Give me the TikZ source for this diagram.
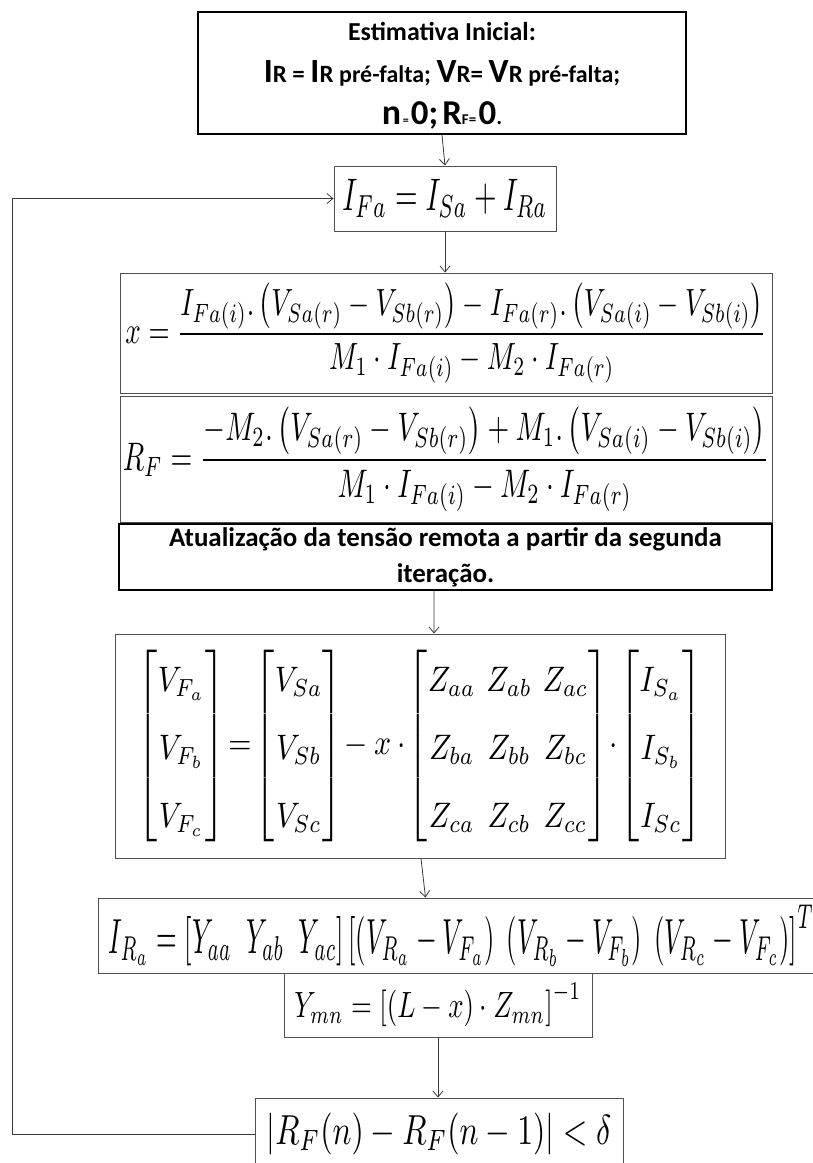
\documentclass[tikz,border=0pt]{standalone}
\usepackage{amsmath}
\usepackage{graphicx}
\usepackage{fontspec}
\usetikzlibrary{arrows.meta}
\newfontfamily\calibri{Carlito}
\definecolor{FCLine}{HTML}{505050}
\definecolor{FCArrow}{HTML}{3A3A3A}
\newcommand{\fsz}[1]{\fontsize{#1}{#1}\selectfont}

\begin{document}
\begin{tikzpicture}[x=1bp,y=-1bp,
  eqbox/.style={draw=FCLine,line width=0.9bp,inner sep=0pt},
  textbox/.style={draw=black,line width=1.8bp,inner sep=0pt,align=center},
  conn/.style={draw=FCArrow,line width=0.8bp,-{Straight Barb[length=6bp,width=10bp]}}]
\path[use as bounding box] (0,0) rectangle (813,1163);
% initial estimate
\node[textbox,minimum width=488bp,minimum height=122bp] (init) at (442,73) {};
\node[align=center,inner sep=0pt,font=\calibri\bfseries\fontsize{26}{42}\selectfont]
  (initTxt) at (442,76)
  {Estimativa Inicial:\\
   {\fsz{34}I}{\fsz{25}R = }{\fsz{34}I}{\fsz{25}R }{\fsz{24}pré-falta}{\fsz{25}; }{\fsz{34}V}{\fsz{25}R= }{\fsz{34}V}{\fsz{25}R }{\fsz{24}pré-falta}{\fsz{25};}\\
   {\fsz{36}n}{\fsz{12}\,=\,}{\fsz{35}0;}{\fsz{18} }{\fsz{35}R}{\fsz{15}F=\,}{\fsz{35}0}{\fsz{22}.}};
\node[eqbox,minimum width=222bp,minimum height=65bp] (ifa) at (445,198.5)
  {\resizebox*{205bp}{38bp}{$I_{Fa}=I_{Sa}+I_{Ra}$}};
\node[eqbox,minimum width=652bp,minimum height=120bp] (xeq) at (446,333)
  {\resizebox*{641bp}{100bp}{$\displaystyle x=\frac{I_{Fa(i)}{.}\left(V_{Sa(r)}-V_{Sb(r)}\right)-I_{Fa(r)}{.}\left(V_{Sa(i)}-V_{Sb(i)}\right)}{M_1\cdot I_{Fa(i)}-M_2\cdot I_{Fa(r)}}$}};
\node[eqbox,minimum width=652bp,minimum height=126bp] (rfeq) at (446,459)
  {\resizebox*{646bp}{105bp}{$\displaystyle R_F=\frac{-M_2{.}\left(V_{Sa(r)}-V_{Sb(r)}\right)+M_1{.}\left(V_{Sa(i)}-V_{Sb(i)}\right)}{M_1\cdot I_{Fa(i)}-M_2\cdot I_{Fa(r)}}$}};
\node[textbox,minimum width=653bp,minimum height=66bp,
  font=\calibri\bfseries\fontsize{27}{36}\selectfont] (atual) at (445.5,557)
  {Atualização da tensão remota a partir da segunda\\iteração.};
% matrix step
\node[eqbox,minimum width=610bp,minimum height=224bp] (mat) at (420,746)
  {\renewcommand{\arraystretch}{1.6}\setlength{\arraycolsep}{1.8pt}%
   \resizebox*{564bp}{204bp}{$\begin{bmatrix}V_{F_a}\\V_{F_b}\\V_{F_c}\end{bmatrix}\!=\!\begin{bmatrix}V_{Sa}\\V_{Sb}\\V_{Sc}\end{bmatrix}\!-x\cdot\!\begin{bmatrix}Z_{aa}&Z_{ab}&Z_{ac}\\Z_{ba}&Z_{bb}&Z_{bc}\\Z_{ca}&Z_{cb}&Z_{cc}\end{bmatrix}\!\cdot\!\begin{bmatrix}I_{S_a}\\I_{S_b}\\I_{Sc}\end{bmatrix}$}};
\node[eqbox,minimum width=727bp,minimum height=75bp] (ira) at (461.5,935.5)
  {\resizebox*{705bp}{61bp}{$I_{R_a}=\left[Y_{aa}\;\;Y_{ab}\;\;Y_{ac}\right]\left[\left(V_{R_a}-V_{F_a}\right)\;\left(V_{R_b}-V_{F_b}\right)\;\left(V_{R_c}-V_{F_c}\right)\right]^T$}};
\node[eqbox,minimum width=308bp,minimum height=64bp] (ymn) at (438,1005)
  {\resizebox*{287bp}{44bp}{$Y_{mn}=\left[\left(L-x\right)\cdot Z_{mn}\right]^{-1}$}};
\node[eqbox,minimum width=368bp,minimum height=72bp] (crit) at (439,1134)
  {\resizebox*{345bp}{42bp}{$\left|R_F(n)-R_F(n-1)\right|<\delta$}};
\coordinate (loopx) at (12,0);
% connectors
\draw[conn] (init.south) -- (ifa.north);
\draw[conn] (ifa.south) -- (ifa.south |- xeq.north);
\draw[conn] ([xshift=-11.5bp]atual.south) -- ([xshift=14bp]mat.north);
\draw[conn] ([xshift=1bp]mat.south) -- ([xshift=-36bp]ira.north);
\draw[conn] (ymn.south) -- (ymn.south |- crit.north);
\draw[conn] (crit.west) -| (loopx |- ifa.west) -- (ifa.west);
\end{tikzpicture}
\end{document}
